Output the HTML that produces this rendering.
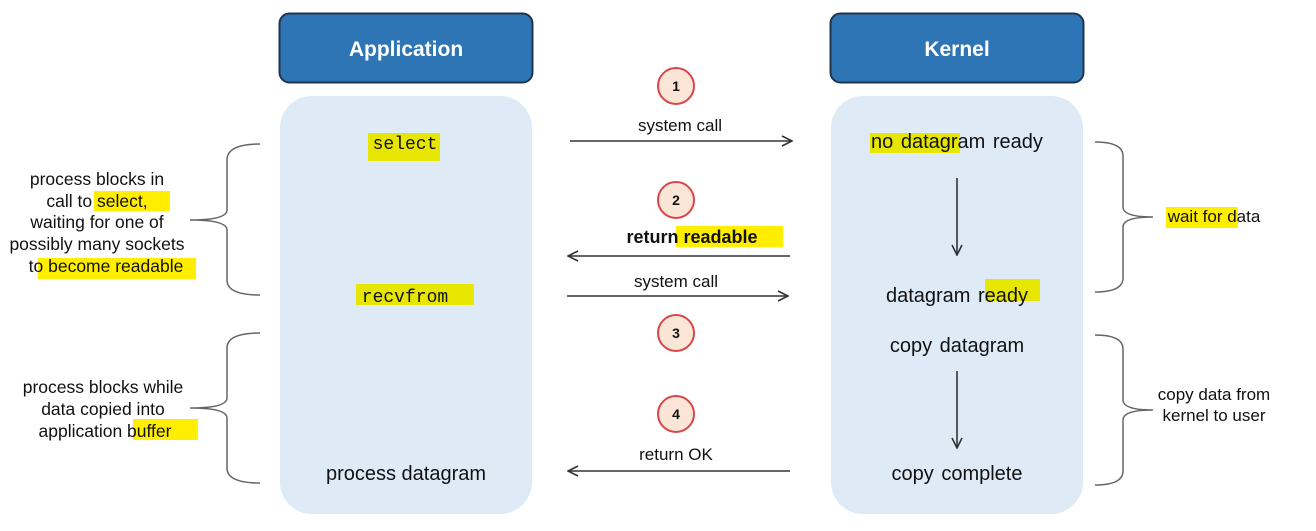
<!DOCTYPE html>
<html><head><meta charset="utf-8"><style>
html,body{margin:0;padding:0;background:#fff;}
svg{display:block}
text{font-family:"Liberation Sans",sans-serif;fill:#111;}
.m{font-family:"Liberation Mono",monospace;}
</style></head><body>
<svg width="1316" height="531" viewBox="0 0 1316 531" xmlns="http://www.w3.org/2000/svg">
<defs>
<marker id="ah" viewBox="0 0 12 12" refX="11" refY="6" markerWidth="12" markerHeight="12" markerUnits="userSpaceOnUse" orient="auto">
<path d="M1,1 L11,6 L1,11" fill="none" stroke="#333" stroke-width="1.6"/></marker>
</defs>
<rect x="279.5" y="13.5" width="253" height="69" rx="10" fill="#2e75b6" stroke="#1f3550" stroke-width="2"/>
<text x="406" y="56" text-anchor="middle" font-size="21" font-weight="bold" style="fill:#fff">Application</text>
<rect x="830.5" y="13.5" width="253" height="69" rx="10" fill="#2e75b6" stroke="#1f3550" stroke-width="2"/>
<text x="957" y="56" text-anchor="middle" font-size="21" font-weight="bold" style="fill:#fff">Kernel</text>
<rect x="280" y="96" width="252" height="418" rx="32" fill="#deeaf6"/>
<rect x="831" y="96" width="252" height="418" rx="32" fill="#deeaf6"/>
<rect x="368" y="133" width="72" height="28" fill="#e6e600"/>
<text x="405" y="149" text-anchor="middle" font-size="18" class="m">select</text>
<rect x="356" y="284" width="118" height="21" fill="#e6e600"/>
<text x="405" y="302" text-anchor="middle" font-size="18" class="m">recvfrom</text>
<text x="406" y="480" text-anchor="middle" font-size="20">process datagram</text>
<rect x="870" y="133" width="90" height="20" fill="#e6e600"/>
<text x="957" y="148" text-anchor="middle" font-size="20" word-spacing="2">no datagram ready</text>
<rect x="985" y="279" width="55" height="22" fill="#e6e600"/>
<text x="957" y="302" text-anchor="middle" font-size="20" word-spacing="2">datagram ready</text>
<text x="957" y="352" text-anchor="middle" font-size="20" word-spacing="2">copy datagram</text>
<text x="957" y="480" text-anchor="middle" font-size="20" word-spacing="2">copy complete</text>
<line x1="957" y1="178" x2="957" y2="255" stroke="#333" stroke-width="1.6" marker-end="url(#ah)"/>
<line x1="957" y1="371" x2="957" y2="448" stroke="#333" stroke-width="1.6" marker-end="url(#ah)"/>
<g fill="#fbe5d6" stroke="#d9464a" stroke-width="2">
<circle cx="676" cy="86" r="18"/><circle cx="676" cy="200" r="18"/>
<circle cx="676" cy="333" r="18"/><circle cx="676" cy="414" r="18"/></g>
<g font-size="14" font-weight="bold" text-anchor="middle">
<text x="676" y="91">1</text><text x="676" y="205">2</text><text x="676" y="338">3</text><text x="676" y="419">4</text></g>
<g stroke="#333" stroke-width="1.6">
<line x1="570" y1="141" x2="792" y2="141" marker-end="url(#ah)"/>
<line x1="790" y1="256" x2="568" y2="256" marker-end="url(#ah)"/>
<line x1="567" y1="296" x2="788" y2="296" marker-end="url(#ah)"/>
<line x1="790" y1="471" x2="568" y2="471" marker-end="url(#ah)"/>
</g>
<text x="680" y="131" text-anchor="middle" font-size="17">system call</text>
<rect x="676" y="226" width="107" height="21" fill="#ffee00"/>
<text x="692" y="243" text-anchor="middle" font-size="18" font-weight="bold">return readable</text>
<text x="676" y="287" text-anchor="middle" font-size="17">system call</text>
<text x="676" y="460" text-anchor="middle" font-size="17">return OK</text>
<g fill="none" stroke="#666" stroke-width="1.5">
<path d="M260,144 Q227,144 227,160 L227,210 Q227,220 190,220 Q227,220 227,230 L227,280 Q227,295 260,295"/>
<path d="M260,333 Q227,333 227,348 L227,398 Q227,408 190,408 Q227,408 227,418 L227,468 Q227,483 260,483"/>
<path d="M1095,142 Q1123,142 1123,156 L1123,207 Q1123,217 1153,217 Q1123,217 1123,227 L1123,278 Q1123,292 1095,292"/>
<path d="M1095,335 Q1123,335 1123,349 L1123,400 Q1123,410 1153,410 Q1123,410 1123,420 L1123,471 Q1123,485 1095,485"/>
</g>
<rect x="94" y="191" width="76" height="20" fill="#ffee00"/>
<rect x="38" y="258" width="158" height="21" fill="#ffee00"/>
<rect x="133" y="419" width="65" height="21" fill="#ffee00"/>
<g font-size="17.5" text-anchor="middle">
<text x="97" y="185">process blocks in</text>
<text x="97" y="207">call to select,</text>
<text x="97" y="228">waiting for one of</text>
<text x="97" y="250">possibly many sockets</text>
<text x="106" y="272">to become readable</text>
<text x="103" y="393">process blocks while</text>
<text x="103" y="415">data copied into</text>
<text x="105" y="437">application buffer</text>
</g>
<rect x="1166" y="207" width="72" height="21" fill="#ffee00"/>
<g font-size="17" text-anchor="middle">
<text x="1214" y="222">wait for data</text>
<text x="1214" y="400">copy data from</text>
<text x="1214" y="421">kernel to user</text>
</g>
</svg>
</body></html>
